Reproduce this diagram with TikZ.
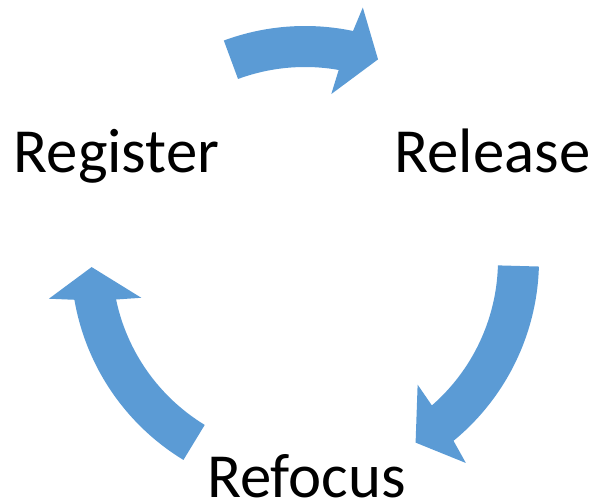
\documentclass[tikz,border=0pt]{standalone}
\usepackage{fontspec}
\setmainfont{Carlito}
\definecolor{cycleblue}{RGB}{91,155,213}
\tikzset{
  stage/.style={inner sep=0pt,anchor=base,font=\fontsize{63}{70}\selectfont},
  arrowfill/.style={fill=cycleblue}
}
\begin{document}
\begin{tikzpicture}[x=1bp,y=1bp]
\useasboundingbox (-305,-241) rectangle (290,260);
\node[stage] (register) at (-188.5,87) {Register};
\node[stage] (release) at (187.5,87) {Release};
\node[stage] (refocus) at (1.5,-237) {Refocus};
\foreach \t/\i/\o/\p in {110.3/81/77.1/70,-1.6/-47.9/-51.6/-58.8,238.7/193/188.6/181.9}
\fill[arrowfill] (\t:234bp) arc[start angle=\t,end angle={\o+0.27*(\i-\o)},radius=234bp]
  -- (\o:259bp) -- (\p:213.5bp) -- (\i:168bp) -- ({\o+0.73*(\i-\o)}:193bp)
  arc[start angle={\o+0.73*(\i-\o)},end angle=\t,radius=193bp] -- cycle;
\end{tikzpicture}
\end{document}
